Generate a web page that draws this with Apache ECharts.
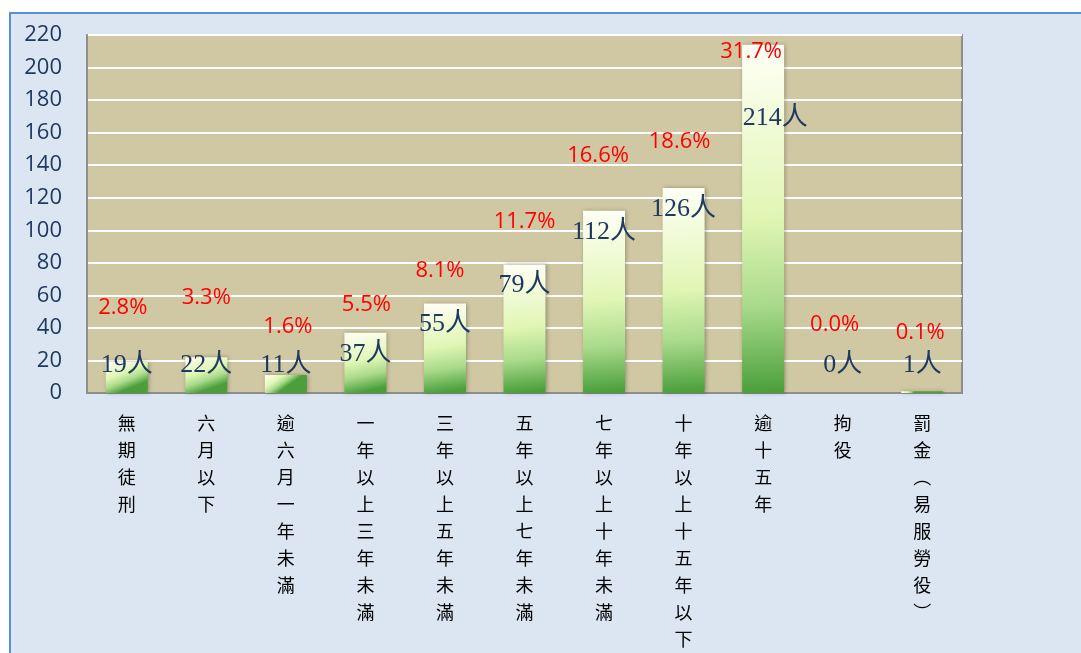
<!DOCTYPE html>
<html>
<head>
<meta charset="utf-8">
<script src="https://cdn.jsdelivr.net/npm/echarts@6/dist/echarts.min.js"></script>
<style>
    html, body { margin: 0; padding: 0; background: #fff; }
    #panel {
        position: absolute; left: 9px; top: 12px; width: 1072px; height: 641px;
        background: #dce6f2; border-top: 2px solid #5b8ed6; border-left: 2px solid #5b8ed6;
        box-sizing: border-box;
    }
    #chart { position: absolute; left: 0; top: 0; width: 1081px; height: 653px; }
</style>
</head>
<body>
<div id="panel"></div>
<div id="chart"></div>
<script>
// 刑期分布
var categories = ['無期徒刑', '六月以下', '逾六月一年未滿', '一年以上三年未滿', '三年以上五年未滿',
    '五年以上七年未滿', '七年以上十年未滿', '十年以上十五年以下', '逾十五年', '拘役', '罰金(易服勞役)'];
var counts = [19, 22, 11, 37, 55, 79, 112, 126, 214, 0, 1];
var percents = [2.8, 3.3, 1.6, 5.5, 8.1, 11.7, 16.6, 18.6, 31.7, 0.0, 0.1];
var yTicks = { min: 0, max: 220, step: 20 };

// 百分比標籤的位置微調 (px)
var pctShift = [[-4, -43], [0, -48], [2, -37], [1, -17], [-5, -22], [0, -32],
    [-6, -44], [-4, -35], [-12, 18], [-8, -57], [-2, -48]];

var chart = echarts.init(document.getElementById('chart'));

var barColor = new echarts.graphic.LinearGradient(0, 0, 0.3, 1, [
    { offset: 0, color: '#fffff6' },
    { offset: 0.5, color: '#e0f6b4' },
    { offset: 0.75, color: '#a9da8a' },
    { offset: 1, color: '#4a9f3b' }
]);

var countData = counts.map(function (v, i) {
    var label = v < 30
        ? { position: 'insideBottom', distance: 15 }
        : { position: 'insideTop', distance: 8 };
    if (i === 8) {
        label.distance = 60;
        label.offset = [12, 0];
    }
    return { value: v, label: label };
});

var pctData = counts.map(function (v, i) {
    return { value: v, label: { offset: pctShift[i] } };
});

var option = {
    animation: false,
    backgroundColor: 'transparent',
    grid: {
        left: 87, right: 119, top: 35, bottom: 258,
        show: true, backgroundColor: '#cfc8a2', borderColor: '#8e8e8e', borderWidth: 2
    },
    xAxis: {
        type: 'category',
        data: categories,
        axisLine: { lineStyle: { color: '#8e8e8e', width: 2 } },
        axisTick: { show: false },
        axisLabel: {
            interval: 0,
            margin: 17,
            verticalAlign: 'top',
            color: '#000',
            fontSize: 18,
            lineHeight: 27,
            fontFamily: '"Noto Sans CJK TC", sans-serif',
            formatter: function (val) {
                return val.replace('(', '︵').replace(')', '︶').split('').join('\n');
            }
        }
    },
    yAxis: {
        type: 'value',
        min: yTicks.min,
        max: yTicks.max,
        interval: yTicks.step,
        axisLine: { show: true, lineStyle: { color: '#8e8e8e', width: 2 } },
        axisTick: { show: false },
        splitLine: { lineStyle: { color: '#ffffff', width: 2 } },
        axisLabel: {
            margin: 25,
            padding: [4, 0, 0, 0],
            color: '#1f3a60',
            fontSize: 22,
            fontFamily: '"Open Sans", sans-serif'
        }
    },
    series: [{
        name: 'count',
        type: 'bar',
        barWidth: 42,
        data: countData,
        itemStyle: {
            color: barColor,
            shadowBlur: 4,
            shadowColor: 'rgba(0,0,0,0.3)',
            shadowOffsetX: 1
        },
        label: {
            show: true,
            color: '#1f3a60',
            fontSize: 26,
            lineHeight: 26,
            fontFamily: '"Liberation Serif", "Noto Sans CJK TC", serif',
            formatter: function (p) { return p.value + '人'; }
        },
        z: 2
    }, {
        name: 'pct',
        type: 'bar',
        barWidth: 42,
        barGap: '-100%',
        silent: true,
        data: pctData,
        itemStyle: { color: 'transparent' },
        label: {
            show: true,
            position: 'top',
            distance: 0,
            color: '#ff0000',
            fontSize: 22,
            lineHeight: 22,
            fontFamily: '"Open Sans", sans-serif',
            formatter: function (p) { return percents[p.dataIndex].toFixed(1) + '%'; }
        },
        z: 3
    }]
};

chart.setOption(option);
</script>
</body>
</html>
